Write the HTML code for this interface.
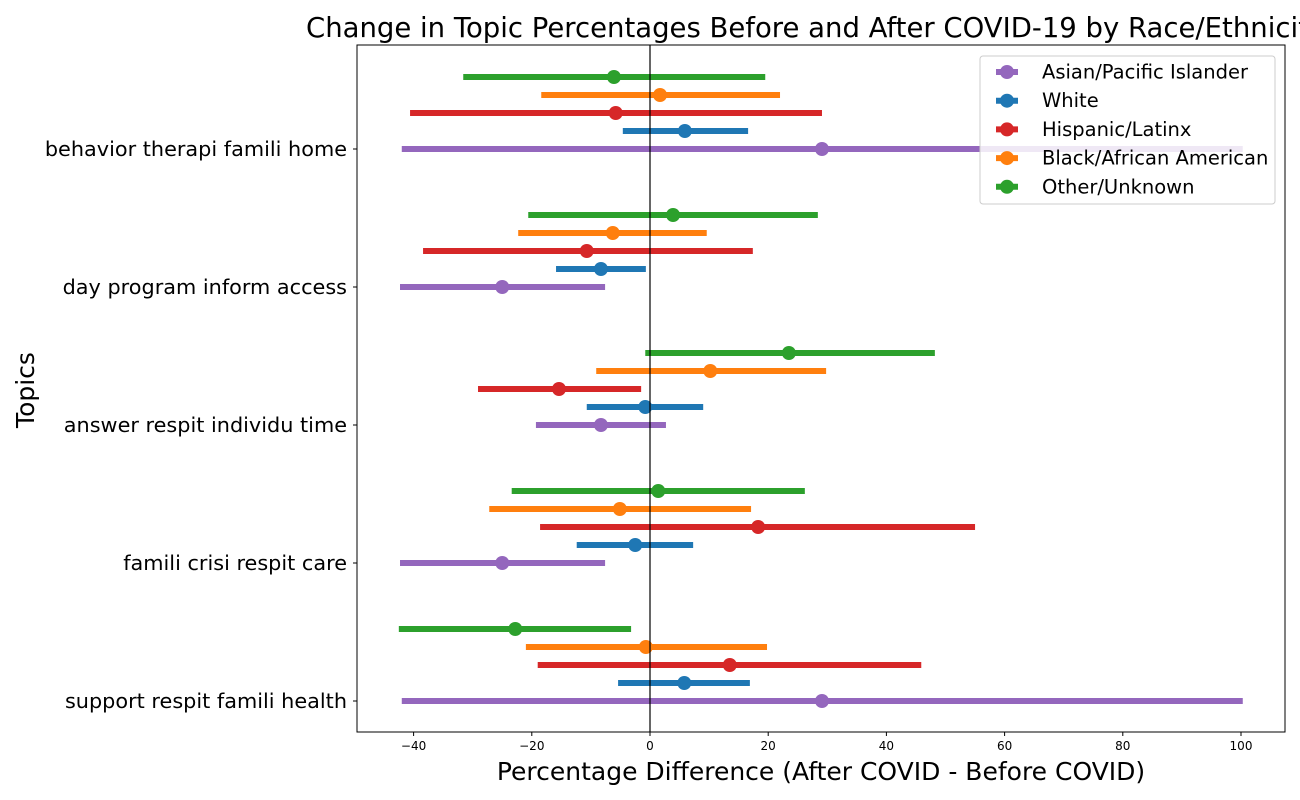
<!DOCTYPE html>
<html><head><meta charset="utf-8"><style>
html,body{margin:0;padding:0;background:#fff;overflow:hidden;width:1300px;height:800px}
svg{font-family:"DejaVu Sans","Liberation Sans",sans-serif;display:block}
</style></head><body>
<svg id="chart" width="1300" height="800">
<text x="306" y="37" font-size="27.5" fill="#000">Change in Topic Percentages Before and After COVID-19 by Race/Ethnicity</text>
<rect x="357" y="45" width="928" height="687" fill="none" stroke="#000" stroke-width="1"/>
<g id="marks"></g>
<g id="axes"></g>
<text x="821" y="780" font-size="25" text-anchor="middle">Percentage Difference (After COVID - Before COVID)</text>
<text transform="translate(34,390) rotate(-90)" font-size="25" text-anchor="middle">Topics</text>
<g id="legend"></g>
</svg>
<script>
const topics = ["behavior therapi famili home","day program inform access","answer respit individu time","famili crisi respit care","support respit famili health"];
const groups = ["Asian/Pacific Islander","White","Hispanic/Latinx","Black/African American","Other/Unknown"];
const colors = ["#9467bd","#1f77b4","#d62728","#ff7f0e","#2ca02c"];
const means = [
  [29.1,-25,-8.3,-25,29.1],
  [5.9,-8.3,-0.8,-2.5,5.8],
  [-5.8,-10.7,-15.4,18.3,13.5],
  [1.7,-6.3,10.2,-5.1,-0.7],
  [-6.1,3.9,23.5,1.4,-22.8]
];
const lows = [
  [-42,-42.3,-19.3,-42.3,-42],
  [-4.6,-15.9,-10.7,-12.4,-5.4],
  [-40.6,-38.4,-29.1,-18.6,-19],
  [-18.4,-22.3,-9.1,-27.2,-21],
  [-31.6,-20.6,-0.8,-23.4,-42.5]
];
const highs = [
  [100.3,-7.6,2.7,-7.6,100.3],
  [16.6,-0.7,9.0,7.3,16.9],
  [29.1,17.4,-1.5,55,45.9],
  [22,9.6,29.8,17.1,19.8],
  [19.5,28.4,48.2,26.2,-3.2]
];
const xTicks = [-40,-20,0,20,40,60,80,100];
const NS="http://www.w3.org/2000/svg";
const xs = v => 650 + v*5.91;
const ys = (t,g) => 149 + t*138 - g*18;
function mk(tag,attrs,parent){const e=document.createElementNS(NS,tag);for(const k in attrs)e.setAttribute(k,attrs[k]);parent.appendChild(e);return e;}
const marks=document.getElementById('marks'), axes=document.getElementById('axes'), legend=document.getElementById('legend');
for(let g=0;g<groups.length;g++){
  for(let t=0;t<topics.length;t++){
    const y=ys(t,g);
    const l=mk('line',{x1:xs(lows[g][t]),x2:xs(highs[g][t]),y1:y,y2:y,stroke:colors[g],'stroke-width':6},marks);
    
    
    const c=mk('circle',{cx:xs(means[g][t]),cy:y,r:7,fill:colors[g]},marks);
    
    
  }
}
const zl=mk('line',{x1:650,x2:650,y1:45,y2:732,stroke:'#000','stroke-width':1.2},marks);


xTicks.forEach(v=>{
  const tk=mk('line',{x1:xs(v),x2:xs(v),y1:732,y2:736,stroke:'#000'},axes);
  
  
  const tx=mk('text',{x:xs(v),y:750,'font-size':12,'text-anchor':'middle'},axes);
  tx.textContent=v===0?'0':(v<0?'\u2212'+(-v):v);
  
  
});
topics.forEach((tp,t)=>{
  const y=ys(t,0);
  const tk=mk('line',{x1:353,x2:357,y1:y,y2:y,stroke:'#000'},axes);
  
  
  const tx=mk('text',{x:347,y:y+7,'font-size':20.8,'text-anchor':'end'},axes);
  tx.textContent=tp;
  
  
});
const lb=mk('rect',{x:980,y:56,width:295,height:148,rx:3,fill:'#fff','fill-opacity':0.85,stroke:'#ccc'},legend);


groups.forEach((gname,g)=>{
  const y=72+g*28.7;
  const ll=mk('line',{x1:996,x2:1018,y1:y,y2:y,stroke:colors[g],'stroke-width':6},legend);
  
  
  const lc=mk('circle',{cx:1007,cy:y,r:7,fill:colors[g]},legend);
  
  
  const lt=mk('text',{x:1042,y:y+6.5,'font-size':19.5},legend);
  lt.textContent=gname;
  
  
});
</script>
</body></html>
